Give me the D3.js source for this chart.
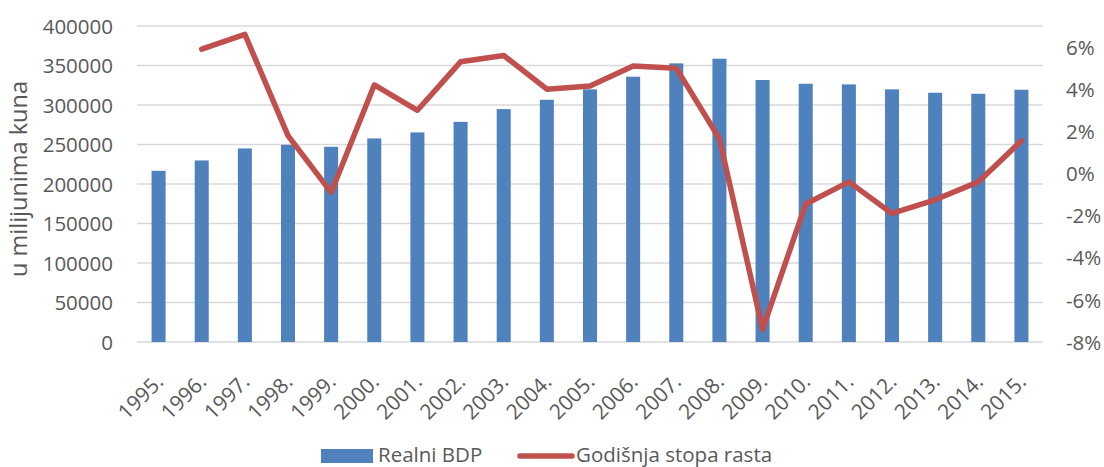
<!DOCTYPE html>
<html>
<head>
<meta charset="utf-8">
<script src="https://cdn.jsdelivr.net/npm/d3@7"></script>
<style>
	body { margin: 0; background: #fff; }
	svg text { font-family: "Open Sans", "Noto Sans", sans-serif; fill: #595959; }
</style>
</head>
<body>
<svg id="chart" width="1104" height="467"></svg>
<script>
// years on the category axis
const years = ["1995.", "1996.", "1997.", "1998.", "1999.", "2000.", "2001.", "2002.", "2003.", "2004.",
	"2005.", "2006.", "2007.", "2008.", "2009.", "2010.", "2011.", "2012.", "2013.", "2014.", "2015."];

// real GDP, millions of kuna
const gdp = [216700, 229800, 245000, 249600, 247100, 257700, 265300, 278700, 294800, 306600,
	319800, 335800, 352700, 358600, 331600, 326900, 326100, 319800, 315500, 314200, 319300];

// annual growth rate in % (no value for the first year)
const growth = [null, 5.9, 6.6, 1.8, -0.9, 4.2, 3.0, 5.3, 5.6, 4.0,
	4.15, 5.1, 5.0, 1.65, -7.4, -1.45, -0.4, -1.9, -1.25, -0.4, 1.55];

const leftTicks = [0, 50000, 100000, 150000, 200000, 250000, 300000, 350000, 400000];
const rightTicks = [-8, -6, -4, -2, 0, 2, 4, 6];

const svg = d3.select("#chart");

const plot = { left: 137, right: 1043, top: 26, bottom: 342 };

// Scales
const x = d3.scaleBand()
	.domain(years)
	.range([plot.left, plot.right])
	.paddingInner(0.675)
	.paddingOuter(0.3375);

const yLeft = d3.scaleLinear()
	.domain([0, 400000])
	.range([plot.bottom, plot.top]);

const yRight = d3.scaleLinear()
	.domain([-8, 7])
	.range([plot.bottom, plot.top]);

// Gridlines
svg.append("g")
	.selectAll("line")
	.data(leftTicks)
	.enter()
	.append("line")
	.attr("x1", plot.left)
	.attr("x2", plot.right)
	.attr("y1", d => yLeft(d))
	.attr("y2", d => yLeft(d))
	.attr("stroke", "#d9d9d9")
	.attr("stroke-width", 1.4);

// Left axis
const leftAxis = svg.append("g")
	.attr("transform", `translate(${plot.left - 24},0)`)
	.call(d3.axisLeft(yLeft).tickValues(leftTicks).tickSize(0).tickPadding(0).tickFormat(d3.format("d")));
leftAxis.select(".domain").remove();
leftAxis.selectAll("text")
	.style("font-size", "20.5px")
	.attr("dy", "0.35em");

// Right axis
const rightAxis = svg.append("g")
	.attr("transform", `translate(${plot.right + 23},0)`)
	.call(d3.axisRight(yRight).tickValues(rightTicks).tickSize(0).tickPadding(0).tickFormat(d => d + "%"));
rightAxis.select(".domain").remove();
rightAxis.selectAll("text")
	.style("font-size", "20.5px")
	.attr("dy", "0.35em");

// Left axis title
svg.append("text")
	.attr("transform", "translate(27,179) rotate(-90)")
	.attr("text-anchor", "middle")
	.style("font-size", "23.5px")
	.text("u milijunima kuna");

// Bars
svg.append("g")
	.selectAll("rect")
	.data(gdp)
	.enter()
	.append("rect")
	.attr("x", (d, i) => x(years[i]))
	.attr("y", d => yLeft(d))
	.attr("width", x.bandwidth())
	.attr("height", d => yLeft(0) - yLeft(d))
	.attr("fill", "#4f81bd");

// Growth line
const line = d3.line()
	.defined(d => d !== null)
	.x((d, i) => x(years[i]) + x.bandwidth() / 2)
	.y(d => yRight(d));

svg.append("path")
	.datum(growth)
	.attr("d", line)
	.attr("fill", "none")
	.attr("stroke", "#c0504d")
	.attr("stroke-width", 5.5)
	.attr("stroke-linejoin", "round")
	.attr("stroke-linecap", "round");

// Category labels, rotated
svg.append("g")
	.selectAll("text")
	.data(years)
	.enter()
	.append("text")
	.attr("transform", d => `translate(${x(d) + x.bandwidth() / 2 + 6},${plot.bottom + 41}) rotate(-45)`)
	.attr("text-anchor", "end")
	.style("font-size", "21px")
	.text(d => d);

// Legend
const legend = svg.append("g");
legend.append("rect")
	.attr("x", 321).attr("y", 449)
	.attr("width", 52).attr("height", 14)
	.attr("fill", "#4f81bd");
legend.append("text")
	.attr("x", 378).attr("y", 462)
	.style("font-size", "20.5px")
	.text("Realni BDP");
legend.append("line")
	.attr("x1", 520).attr("x2", 572)
	.attr("y1", 456).attr("y2", 456)
	.attr("stroke", "#c0504d")
	.attr("stroke-width", 5.5)
	.attr("stroke-linecap", "round");
legend.append("text")
	.attr("x", 576).attr("y", 462)
	.style("font-size", "20.5px")
	.text("Godišnja stopa rasta");
</script>
</body>
</html>
